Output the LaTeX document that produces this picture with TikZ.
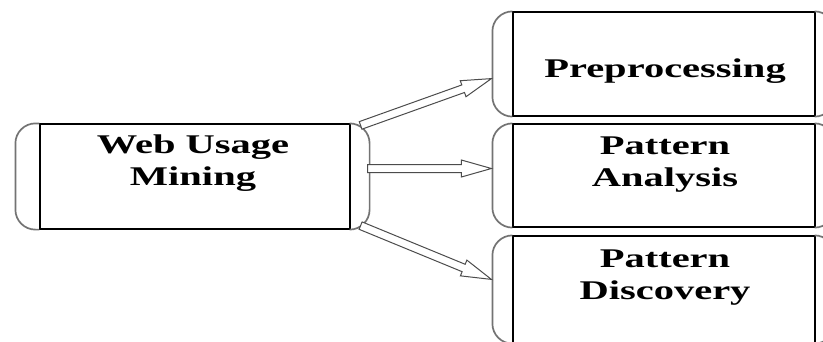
\documentclass[tikz,border=0pt]{standalone}
\usepackage{fontspec}
\newfontfamily\boxfont{Liberation Serif}[FakeStretch=1.5]
\usetikzlibrary{calc}
\tikzset{
  blk/.style={draw, line width=1.2pt, inner sep=0pt, fill=white},
  lbl/.style={align=center, font=\boxfont\bfseries\fontsize{27}{32}\selectfont},
  capline/.style={draw=black!55, line width=1.7pt, rounded corners=20pt},
  hollowarrow/.style={draw=black!70, line width=1pt, fill=white, line join=miter,
    to path={let \p1=($(\tikztotarget)-(\tikztostart)$), \n1={atan2(\y1,\x1)},
      \n2={veclen(\x1,\y1)-30} in
      ($(\tikztostart)+(\n1+90:4pt)$) -- ++(\n1:\n2) -- ++(\n1+90:4.5pt)
      -- (\tikztotarget) -- ($(\tikztostart)+(\n1:\n2)+(\n1-90:8.5pt)$)
      -- ++(\n1+90:4.5pt) -- ($(\tikztostart)+(\n1-90:4pt)$) -- cycle}}
}
\newcommand\drawcaps[2]{% node, left cap width
  \draw[capline] (#1.north west) -- ++(-#2,0) |- (#1.south west);
  \draw[capline] (#1.north east) -- ++(19,0) |- (#1.south east);
}
\begin{document}
\begin{tikzpicture}[x=1pt,y=-1pt]
\useasboundingbox (0,0) rectangle (823,341);
\clip (0,0) rectangle (823,341);
\fill[white] (0,0) rectangle (823,341);

% boxes
\node[blk, minimum width=310pt, minimum height=105pt] at (195,176.5) (wum){};
\node[blk, minimum width=302pt, minimum height=104pt] at (664,64) (pre){};
\node[blk, minimum width=302pt, minimum height=103pt] at (664,175.5) (pa){};
\node[blk, minimum width=302pt, minimum height=107pt] at (664,289.5) (pd){};
\drawcaps{wum}{24}
\drawcaps{pre}{20}
\drawcaps{pa}{20}
\drawcaps{pd}{20}

% labels
\node[lbl] at (193,163) (wum-txt){Web Usage\\Mining};
\node[lbl] at (665,71) (pre-txt){Preprocessing};
\node[lbl] at (665,165) (pa-txt){Pattern\\Analysis};
\node[lbl] at (665,278) (pd-txt){Pattern\\Discovery};

% arrow ends on the caps
\coordinate (wum-t) at ($(wum.north east)+(10,2)$);
\coordinate (wum-m) at ($(wum.east)+(17,-8)$);
\coordinate (wum-b) at ($(wum.south east)+(10,-4)$);
\coordinate (pre-in) at ($(pre.south west)+(-21,-38)$);
\coordinate (pa-in) at ($(pa.west)+(-21,-7)$);
\coordinate (pd-in) at ($(pd.north west)+(-21,44)$);

\draw[hollowarrow] (wum-t) to (pre-in);
\draw[hollowarrow] (wum-m) to (pa-in);
\draw[hollowarrow] (wum-b) to (pd-in);
\end{tikzpicture}
\end{document}
